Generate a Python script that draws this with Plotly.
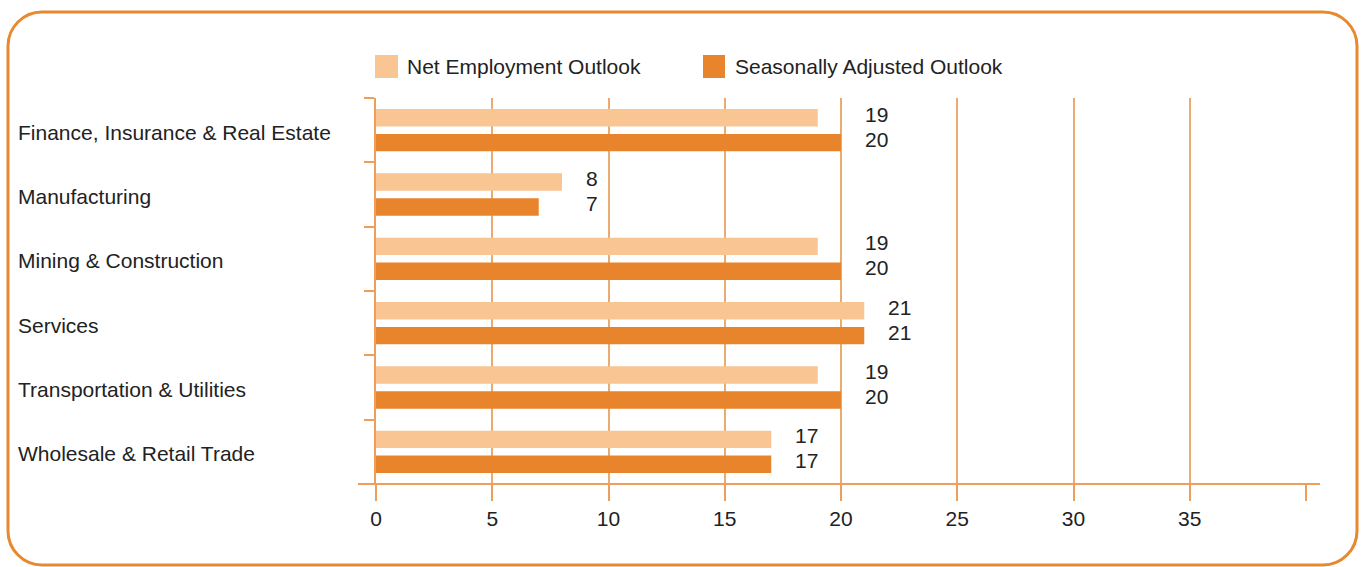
import plotly.graph_objects as go

# ---- data ----
categories = ["Finance, Insurance & Real Estate", "Manufacturing", "Mining & Construction",
              "Services", "Transportation & Utilities", "Wholesale & Retail Trade"]
net_outlook = [19, 8, 19, 21, 19, 17]
seasonal_outlook = [20, 7, 20, 21, 20, 17]
series_names = ["Net Employment Outlook", "Seasonally Adjusted Outlook"]
tick_vals = [0, 5, 10, 15, 20, 25, 30, 35, 40]
tick_text = ["0", "5", "10", "15", "20", "25", "30", "35", ""]

# ---- style ----
LIGHT = "#F8C593"
DARK = "#E8842C"
GRID = "#EBAA70"
AXIS = "#EC9E5A"
BORDER = "#E8892F"
TEXT = "#222222"
FONT = "Liberation Sans, Arial, Helvetica, sans-serif"
FS = 21

W, H = 1365, 567
ML, MR, MT, MB = 376, 59, 98, 83
PW, PH = W - ML - MR, H - MT - MB


def px(x):
    return (x - ML) / PW


def py(y):
    return (H - MB - y) / PH


fig = go.Figure()
fig.add_trace(go.Bar(y=categories, x=net_outlook, orientation="h", name=series_names[0],
                     marker=dict(color=LIGHT, line=dict(width=0)), showlegend=False))
fig.add_trace(go.Bar(y=categories, x=seasonal_outlook, orientation="h", name=series_names[1],
                     marker=dict(color=DARK, line=dict(width=0)), showlegend=False))

annotations = []
# value labels
for i, c in enumerate(categories):
    m = max(net_outlook[i], seasonal_outlook[i])
    annotations.append(dict(x=m, y=c, xref="x", yref="y", text=str(net_outlook[i]),
                            xanchor="left", yanchor="middle", xshift=22, yshift=16,
                            showarrow=False, font=dict(size=FS, color=TEXT, family=FONT)))
    annotations.append(dict(x=m, y=c, xref="x", yref="y", text=str(seasonal_outlook[i]),
                            xanchor="left", yanchor="middle", xshift=22, yshift=-9,
                            showarrow=False, font=dict(size=FS, color=TEXT, family=FONT)))
# category labels (left aligned)
for c in categories:
    annotations.append(dict(x=px(16), y=c, xref="paper", yref="y", text=c,
                            xanchor="left", yanchor="middle", yshift=-2, showarrow=False,
                            font=dict(size=FS, color=TEXT, family=FONT)))

# legend (manual)
shapes = []
legend_items = [(375, 398, 405, LIGHT, series_names[0]), (703, 725, 733, DARK, series_names[1])]
for x0, x1, tx, col, name in legend_items:
    shapes.append(dict(type="rect", xref="paper", yref="paper", x0=px(x0), x1=px(x1),
                       y0=py(78), y1=py(55), fillcolor=col, line=dict(width=0)))
    annotations.append(dict(x=px(tx), y=py(67), xref="paper", yref="paper", text=name,
                            xanchor="left", yanchor="middle", showarrow=False,
                            font=dict(size=FS, color=TEXT, family=FONT)))

# extended x axis line
shapes.append(dict(type="line", xref="paper", yref="paper", x0=px(358), x1=px(1320),
                   y0=0, y1=0, line=dict(color=AXIS, width=2)))

# rounded border
L, T, R, B, r = 8, 12, 1357, 565, 34
k = 0.5523 * r


def P(x, y):
    return f"{px(x):.5f},{py(y):.5f}"


path = (f"M{P(L, T + r)} C{P(L, T + r - k)} {P(L + r - k, T)} {P(L + r, T)} "
        f"L{P(R - r, T)} C{P(R - r + k, T)} {P(R, T + r - k)} {P(R, T + r)} "
        f"L{P(R, B - r)} C{P(R, B - r + k)} {P(R - r + k, B)} {P(R - r, B)} "
        f"L{P(L + r, B)} C{P(L + r - k, B)} {P(L, B - r + k)} {P(L, B - r)} Z")
shapes.append(dict(type="path", xref="paper", yref="paper", path=path,
                   line=dict(color=BORDER, width=3)))

fig.update_layout(
    width=W, height=H,
    margin=dict(l=ML, r=MR, t=MT, b=MB, pad=0),
    paper_bgcolor="white", plot_bgcolor="white",
    barmode="group", bargap=0.225, bargroupgap=0.3,
    font=dict(family=FONT, size=FS, color=TEXT),
    showlegend=False,
    annotations=annotations, shapes=shapes,
    xaxis=dict(range=[0, 40], tickvals=tick_vals, ticktext=tick_text,
               showgrid=True, gridcolor=GRID, gridwidth=1.5,
               showline=False, zeroline=False,
               ticks="outside", ticklen=16, tickwidth=1.5, tickcolor=AXIS,
               tickfont=dict(size=FS, color=TEXT, family=FONT), fixedrange=True),
    yaxis=dict(type="category", categoryorder="array", categoryarray=categories,
               autorange="reversed", showticklabels=False, showgrid=False,
               showline=True, linecolor=AXIS, linewidth=2,
               ticks="outside", tickson="boundaries", ticklen=10, tickwidth=1.5,
               tickcolor=AXIS, zeroline=False, fixedrange=True),
)

fig.write_html("out.html")
